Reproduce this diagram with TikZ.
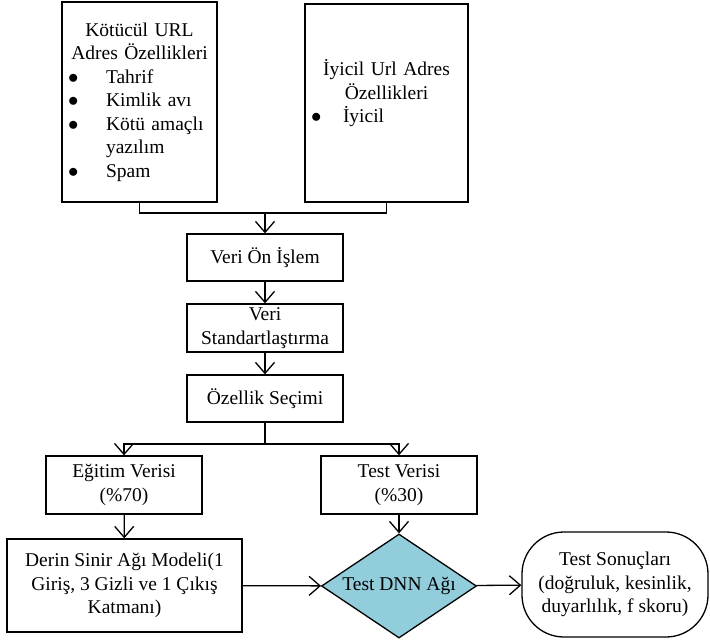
\documentclass[tikz,border=0pt]{standalone}
\usepackage{fontspec}
\setmainfont{Liberation Serif}
\usetikzlibrary{arrows.meta,shapes.geometric}
\definecolor{dnnblue}{HTML}{92CDDC}
\newcommand{\blt}[2]{\hspace*{3pt}\makebox[#1][l]{$\bullet$}#2}

\begin{document}
\begin{tikzpicture}[x=1pt,y=-1pt,line width=1.3pt,
    font=\fontsize{19.5}{23.5}\selectfont,
    box/.style={draw,inner sep=3pt,align=center},
    arr/.style={-{Straight Barb[length=11pt,width=19pt]}}]
      \useasboundingbox (0,0) rectangle (710,641);
      \coordinate (merge) at (265,213);
      \coordinate (split) at (265,444);
      \node[box,minimum width=155,minimum height=200,text width=149pt,align=left] (mal) at (139.5,102)
        {\centering Kötücül URL\\Adres Özellikleri\par\raggedright
         \blt{38pt}{Tahrif}\par\blt{38pt}{Kimlik avı}\par\blt{38pt}{Kötü amaçlı}\par
         \hspace*{41pt}yazılım\par\blt{38pt}{Spam}};
      \node[box,minimum width=163,minimum height=198,text width=157pt,align=left] (good) at (386.5,103)
        {\centering İyicil Url Adres\\Özellikleri\par\raggedright
         \blt{32pt}{İyicil}\par\mbox{}};
      \node[box,minimum width=156,minimum height=47] (pre) at (265,257.5) {Veri Ön İşlem};
      \node[box,minimum width=156,minimum height=48,inner sep=1pt] (std) at (265,328) {Veri\\Standartlaştırma};
      \node[box,minimum width=156,minimum height=47] (feat) at (265,398.5) {Özellik Seçimi};
      \node[box,minimum width=156,minimum height=58] (train) at (124,485) {Eğitim Verisi\\(\%70)};
      \node[box,minimum width=156,minimum height=58] (test) at (399,485) {Test Verisi\\(\%30)};
      \node[box,minimum width=235,minimum height=93] (model) at (124.5,585.5)
        {Derin Sinir Ağı Modeli(1\\Giriş, 3 Gizli ve 1 Çıkış\\Katmanı)};
      \node[draw,diamond,fill=dnnblue,aspect=1.5,inner sep=0pt,minimum width=155,minimum height=104] (dnn) at (399,586) {Test DNN Ağı};
      \node[box,rounded corners=42pt,minimum width=186,minimum height=105] (res) at (615,584.5)
        {Test Sonuçları\\(doğruluk, kesinlik,\\duyarlılık, f skoru)};
      \draw (mal.south) |- (merge) -| (good.south);
      \draw[arr] (merge) -- (pre.north);
      \draw[arr] (pre) -- (std);
      \draw[arr] (std) -- (feat);
      \draw (feat.south) -- (split);
      \draw[arr] (split) -| (train.north);
      \draw[arr] (split) -| (test.north);
      \draw[arr] (train) -- (model);
      \draw[arr] (test) -- (dnn);
      \draw[arr] (model) -- (dnn);
      \draw[arr] (dnn) -- (res);
\end{tikzpicture}
\end{document}
